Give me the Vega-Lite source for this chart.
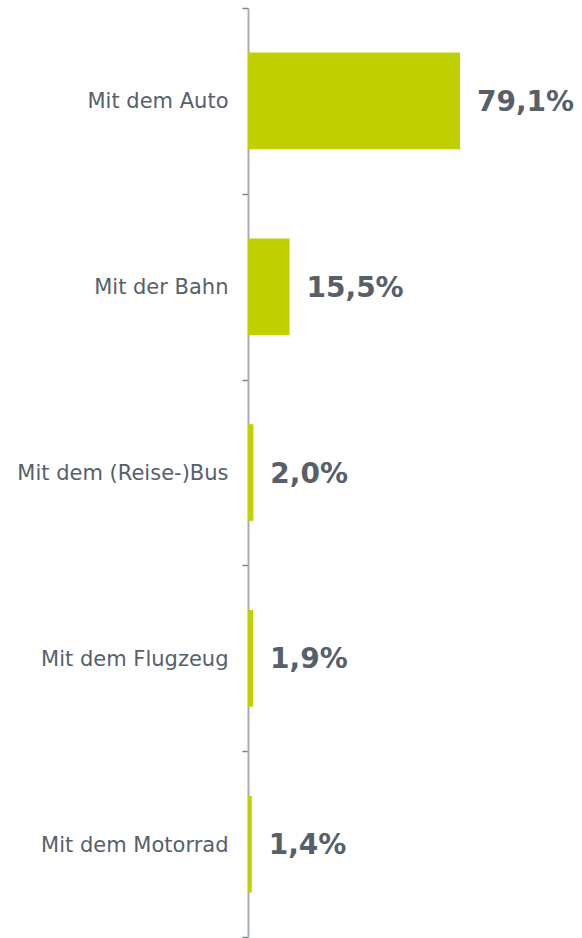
{
  "$schema": "https://vega.github.io/schema/vega-lite/v6.json",
  "width": 268,
  "height": 929,
  "autosize": {"type": "none"},
  "padding": {"left": 248, "top": 8, "right": 66, "bottom": 1},
  "background": "white",
  "config": {"view": {"stroke": null}},
  "data": {
    "values": [
      {"mode": "Mit dem Auto", "share": 79.1, "label": "79,1%"},
      {"mode": "Mit der Bahn", "share": 15.5, "label": "15,5%"},
      {"mode": "Mit dem (Reise-)Bus", "share": 2.0, "label": "2,0%"},
      {"mode": "Mit dem Flugzeug", "share": 1.9, "label": "1,9%"},
      {"mode": "Mit dem Motorrad", "share": 1.4, "label": "1,4%"}
    ]
  },
  "encoding": {
    "y": {
      "field": "mode",
      "type": "nominal",
      "sort": null,
      "scale": {"paddingInner": 0, "paddingOuter": 0},
      "axis": {
        "title": null,
        "tickBand": "extent",
        "tickSize": 6,
        "tickWidth": 1.5,
        "tickColor": "#7a828a",
        "domainColor": "#a8adb3",
        "domainWidth": 2,
        "labelFont": "DejaVu Sans",
        "labelFontSize": 21,
        "labelColor": "#56606b",
        "labelPadding": 14,
        "labelOffset": 1,
        "labelLimit": 260
      }
    },
    "x": {
      "field": "share",
      "type": "quantitative",
      "scale": {"domain": [0, 100]},
      "axis": null
    }
  },
  "layer": [
    {"mark": {"type": "bar", "color": "#bfcf00", "height": {"band": 0.52}}},
    {
      "mark": {
        "type": "text",
        "align": "left",
        "baseline": "middle",
        "dx": 17,
        "dy": 2,
        "font": "DejaVu Sans",
        "fontWeight": "bold",
        "fontSize": 28,
        "color": "#56606b"
      },
      "encoding": {"text": {"field": "label"}}
    }
  ]
}
